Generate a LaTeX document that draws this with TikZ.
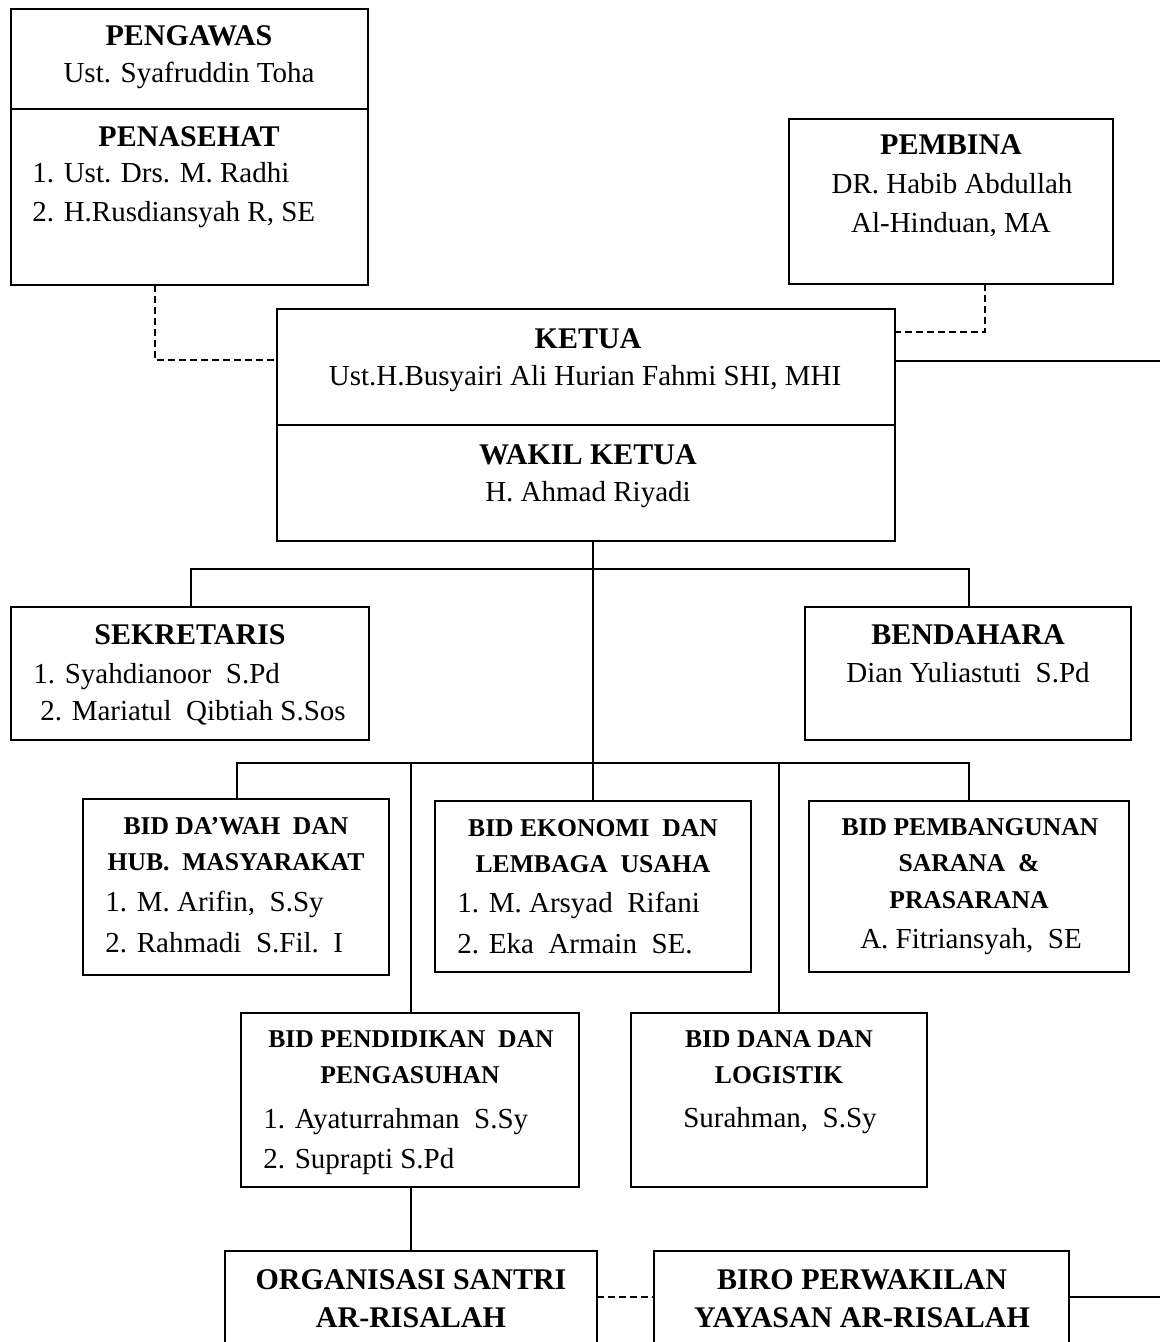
\documentclass[tikz,border=0pt]{standalone}
\usepackage{fontspec}
\setmainfont{Liberation Serif}
\tikzset{
  obox/.style={draw, line width=1pt, inner sep=0pt, outer sep=0pt},
  conn/.style={line width=0.9pt},
  dconn/.style={line width=0.9pt, dash pattern=on 3.5pt off 2pt},
  hd/.style={font=\bfseries\fontsize{15}{17}\selectfont, anchor=base, inner sep=0pt},
  tx/.style={font=\fontsize{14.5}{17}\selectfont, anchor=base, inner sep=0pt},
  txl/.style={tx, anchor=base west},
  bhd/.style={font=\bfseries\fontsize{12.8}{14}\selectfont, anchor=base, inner sep=0pt},
  btx/.style={font=\fontsize{14.5}{16}\selectfont, anchor=base west, inner sep=0pt},
  btc/.style={font=\fontsize{14.5}{16}\selectfont, anchor=base, inner sep=0pt}
}
\newcommand{\orgbox}[5]{\node[obox, anchor=north west, minimum width={(#4-#2)*0.5pt}, minimum height={(#5-#3)*0.5pt}] (#1) at (#2,#3) {};}
\begin{document}
\begin{tikzpicture}[x=0.5pt,y=-0.5pt]
\useasboundingbox (0,0) rectangle (1160,1342);
\clip (0,0) rectangle (1160,1342);
% boxes
\orgbox{pen}{11}{9}{368}{285}
\orgbox{pemb}{789}{119}{1113}{284}
\orgbox{ketua}{277}{309}{895}{541}
\orgbox{sek}{11}{607}{369}{740}
\orgbox{bend}{805}{607}{1131}{740}
\orgbox{dawah}{83}{799}{389}{975}
\orgbox{eko}{435}{801}{751}{972}
\orgbox{bang}{809}{801}{1129}{972}
\orgbox{pend}{241}{1013}{579}{1187}
\orgbox{dana}{631}{1013}{927}{1187}
\orgbox{org}{225}{1251}{597}{1400}
\orgbox{biro}{654}{1251}{1069}{1400}
% dividers
\coordinate (dv1) at (0,109);
\coordinate (dv2) at (0,425);
\draw[line width=1pt] (pen.west |- dv1) -- (pen.east |- dv1);
\draw[line width=1pt] (ketua.west |- dv2) -- (ketua.east |- dv2);
% texts
\node[hd] (t1) at (189,46) {PENGAWAS};
\node[tx] (t2) at (189,83) {Ust. Syafruddin Toha};
\node[hd] (t3) at (189,147) {PENASEHAT};
\node[txl] (t4) at (32,183) {1. Ust. Drs. M. Radhi};
\node[txl] (t5) at (32,222) {2. H.Rusdiansyah R, SE};
\node[hd] (t6) at (951,155) {PEMBINA};
\node[tx] (t7) at (952,194) {DR. Habib Abdullah};
\node[tx] (t8) at (951,233) {Al-Hinduan,\ MA};
\node[hd] (t9) at (588,349) {KETUA};
\node[tx] (t10) at (585,386) {Ust.H.Busyairi Ali Hurian Fahmi\ SHI,\ MHI};
\node[hd] (t11) at (588,464) {WAKIL KETUA};
\node[tx] (t12) at (588,501) {H. Ahmad Riyadi};
\node[hd] (t13) at (190,644) {SEKRETARIS};
\node[txl] (t14) at (33,683) {1. Syahdianoor\ \ S.Pd};
\node[txl] (t15) at (40,720) {2. Mariatul\ \ Qibtiah S.Sos};
\node[hd] (t16) at (968,644) {BENDAHARA};
\node[tx] (t17) at (968,682) {Dian Yuliastuti\ \ S.Pd};
\node[bhd] (t18) at (236,834) {BID DA’WAH\ \ DAN};
\node[bhd] (t19) at (236,870) {HUB.\ \ MASYARAKAT};
\node[btx] (t20) at (105,911) {1. M. Arifin,\ \ S.Sy};
\node[btx] (t21) at (105,952) {2. Rahmadi\ \ S.Fil.\ \ I};
\node[bhd] (t22) at (593,836) {BID EKONOMI\ \ DAN};
\node[bhd] (t23) at (593,872) {LEMBAGA\ \ USAHA};
\node[btx] (t24) at (457,912) {1. M. Arsyad\ \ Rifani};
\node[btx] (t25) at (457,953) {2. Eka\ \ Armain\ \ SE.};
\node[bhd] (t26) at (970,835) {BID PEMBANGUNAN};
\node[bhd] (t27) at (969,871) {SARANA\ \ \&};
\node[bhd] (t28) at (969,908) {PRASARANA};
\node[btc] (t29) at (971,948) {A. Fitriansyah,\ \ SE};
\node[bhd] (t30) at (411,1047) {BID PENDIDIKAN\ \ DAN};
\node[bhd] (t31) at (410,1083) {PENGASUHAN};
\node[btx] (t32) at (263,1128) {1. Ayaturrahman\ \ S.Sy};
\node[btx] (t33) at (263,1168) {2. Suprapti S.Pd};
\node[bhd] (t34) at (779,1047) {BID DANA DAN};
\node[bhd] (t35) at (779,1083) {LOGISTIK};
\node[btc] (t36) at (780,1127) {Surahman,\ \ S.Sy};
\node[hd] (t37) at (411,1289) {ORGANISASI SANTRI};
\node[hd] (t38) at (411,1327) {AR-RISALAH};
\node[hd] (t39) at (862,1289) {BIRO PERWAKILAN};
\node[hd] (t40) at (862,1327) {YAYASAN AR-RISALAH};
% connector coordinates
\coordinate (dA) at (155,360);
\coordinate (dB) at (985,332);
\coordinate (rA) at (1160,361);
\coordinate (tr) at (593,569);
\coordinate (h1L) at (191,569);
\coordinate (h1R) at (969,569);
\coordinate (h2L) at (237,763);
\coordinate (h2R) at (969,763);
\coordinate (v1) at (411,763);
\coordinate (v2) at (779,763);
\coordinate (bl) at (0,1297);
\coordinate (rB) at (1160,1297);
% connectors
\draw[dconn] (pen.south -| dA) -- (dA) -- (ketua.west |- dA);
\draw[dconn] (pemb.south -| dB) -- (dB) -- (ketua.east |- dB);
\draw[conn] (ketua.east |- rA) -- (rA);
\draw[conn] (ketua.south -| tr) -- (eko.north -| tr);
\draw[conn] (sek.north -| h1L) -- (h1L) -- (h1R) -- (bend.north -| h1R);
\draw[conn] (dawah.north -| h2L) -- (h2L) -- (h2R) -- (bang.north -| h2R);
\draw[conn] (v1) -- (pend.north -| v1);
\draw[conn] (v2) -- (dana.north -| v2);
\draw[conn] (pend.south -| v1) -- (org.north -| v1);
\draw[dconn] (org.east |- bl) -- (biro.west |- bl);
\draw[conn] (biro.east |- bl) -- (rB);
\end{tikzpicture}
\end{document}
